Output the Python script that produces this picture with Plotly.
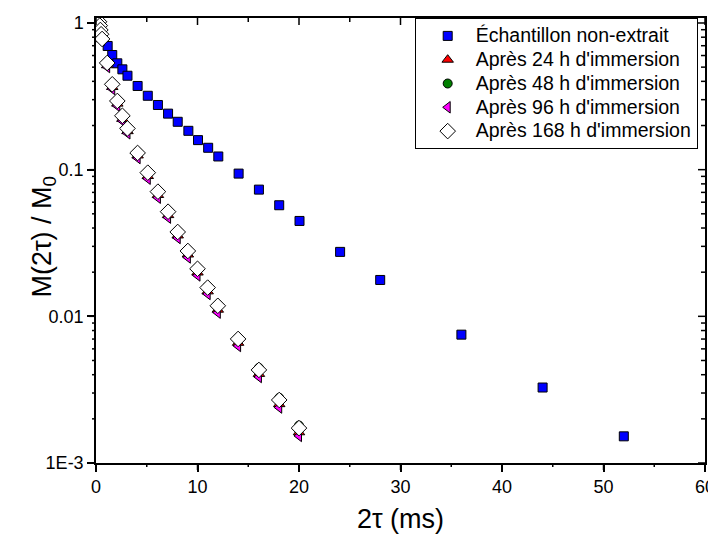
import plotly.graph_objects as go

# ---- data ----
x_ref = [1.15, 1.6, 2.1, 2.6, 3.1, 4.1, 5.1, 6.1, 7.1, 8.05, 9.1, 10.05, 11.05, 12.05,
         14.05, 16.05, 18.05, 20.05, 24.05, 28.0, 36.0, 44.0, 52.0]
y_ref = [0.697, 0.605, 0.531, 0.483, 0.437, 0.372, 0.319, 0.276, 0.241, 0.212, 0.184,
         0.159, 0.141, 0.123, 0.0940, 0.0731, 0.0572, 0.0447, 0.0275, 0.0177, 0.00750,
         0.00327, 0.00152]

x_imm = [0.3, 0.37, 0.43, 0.5, 0.6, 1.1, 1.6, 2.1, 2.6, 3.1, 4.1, 5.1, 6.1, 7.1, 8.05,
         9.05, 10.0, 11.0, 12.0, 14.0, 16.05, 18.05, 20.0]

y_24h = [1.0, 0.955, 0.895, 0.835, 0.775, 0.515, 0.366, 0.282, 0.222, 0.183, 0.125,
         0.0905, 0.0672, 0.0490, 0.0356, 0.0264, 0.0199, 0.0148, 0.0111, 0.00660,
         0.00405, 0.00252, 0.00162]
y_48h = [1.0, 0.96, 0.9, 0.84, 0.78, 0.540, 0.386, 0.297, 0.235, 0.193, 0.132, 0.0965,
         0.0716, 0.0523, 0.0381, 0.0283, 0.0214, 0.0160, 0.0120, 0.00712, 0.00445,
         0.00278, 0.00180]
y_96h = [0.99, 0.95, 0.89, 0.83, 0.77, 0.501, 0.355, 0.272, 0.215, 0.177, 0.120, 0.0868,
         0.0644, 0.0471, 0.0342, 0.0252, 0.0190, 0.0142, 0.0106, 0.00628, 0.00386,
         0.00239, 0.00153]
y_168h = [1.02, 0.96, 0.896, 0.838, 0.778, 0.534, 0.382, 0.294, 0.233, 0.191, 0.130,
          0.0954, 0.0708, 0.0517, 0.0376, 0.0279, 0.0211, 0.0157, 0.0118, 0.00701,
          0.00431, 0.00269, 0.00173]

names = ["Échantillon non-extrait", "Après 24 h d'immersion", "Après 48 h d'immersion",
         "Après 96 h d'immersion", "Après 168 h d'immersion"]

# tick values
x_major_ticks = [0, 10, 20, 30, 40, 50, 60]
x_minor_ticks = [5, 15, 25, 35, 45, 55]
y_major_ticks = [0.001, 0.01, 0.1, 1]
y_minor_ticks = [0.002, 0.003, 0.004, 0.005, 0.006, 0.007, 0.008, 0.009,
                 0.02, 0.03, 0.04, 0.05, 0.06, 0.07, 0.08, 0.09,
                 0.2, 0.3, 0.4, 0.5, 0.6, 0.7, 0.8, 0.9]
y_label_alias = {"0.001": "1E-3"}

FONT = "Arial, Liberation Sans, sans-serif"


def lg(name):
    return '<span style="font-size:19.5px">' + name + '</span>'


fig = go.Figure()
fig.add_trace(go.Scatter(x=x_ref, y=y_ref, mode="markers", name=lg(names[0]),
                         marker=dict(symbol="square", size=9, color="#0000FF",
                                     line=dict(color="black", width=1))))
fig.add_trace(go.Scatter(x=x_imm, y=y_24h, mode="markers", name=lg(names[1]),
                         marker=dict(symbol="triangle-up", size=10, color="#FF0000",
                                     line=dict(color="black", width=1))))
fig.add_trace(go.Scatter(x=x_imm, y=y_48h, mode="markers", name=lg(names[2]),
                         marker=dict(symbol="circle", size=9, color="#008000",
                                     line=dict(color="black", width=1))))
fig.add_trace(go.Scatter(x=x_imm, y=y_96h, mode="markers", name=lg(names[3]),
                         marker=dict(symbol="triangle-left", size=10, color="#FF00FF",
                                     line=dict(color="black", width=1))))
fig.add_trace(go.Scatter(x=x_imm, y=y_168h, mode="markers", name=lg(names[4]),
                         marker=dict(symbol="diamond", size=12, color="white",
                                     line=dict(color="black", width=1))))

yrange = [-3, 0.034]

# tick marks drawn as shapes (positions go through the axes' own scales)
W_PLOT, H_PLOT = 609, 445
TL_MAJ, TL_MIN = 7, 4
tick_line = dict(color="black", width=1.5)
shapes = []
for vals, tl in ((x_major_ticks, TL_MAJ), (x_minor_ticks, TL_MIN)):
    for v in vals:
        # bottom: outside, top: inside
        shapes.append(dict(type="line", xref="x", yref="paper", x0=v, x1=v,
                           y0=0, y1=-tl / H_PLOT, line=tick_line))
        shapes.append(dict(type="line", xref="x", yref="paper", x0=v, x1=v,
                           y0=1, y1=1 - tl / H_PLOT, line=tick_line))
for vals, tl in ((y_major_ticks, TL_MAJ), (y_minor_ticks, TL_MIN)):
    for v in vals:
        # left: outside, right: inside
        shapes.append(dict(type="line", xref="paper", yref="y", y0=v, y1=v,
                           x0=0, x1=-tl / W_PLOT, line=tick_line))
        shapes.append(dict(type="line", xref="paper", yref="y", y0=v, y1=v,
                           x0=1, x1=1 - tl / W_PLOT, line=tick_line))

fig.update_layout(
    template="none",
    width=708, height=529,
    margin=dict(l=88, r=11, t=10, b=74, autoexpand=False),
    paper_bgcolor="white", plot_bgcolor="white",
    font=dict(family=FONT, size=18, color="black"),
    showlegend=True,
    legend=dict(x=0.988, y=1.0, xanchor="right", yanchor="top",
                bordercolor="black", borderwidth=1, bgcolor="white",
                font=dict(family=FONT, size=16, color="black"),
                indentation=4, itemwidth=46, itemsizing="trace"),
    xaxis=dict(range=[0, 60], tickvals=x_major_ticks, ticks="outside", ticklen=7,
               tickcolor="black", tickwidth=1.5,
               showline=True, linecolor="black", linewidth=1.5, mirror=True,
               showgrid=False, zeroline=False, ticklabeloverflow="allow",
               title=dict(text="2τ (ms)", font=dict(size=27), standoff=13)),
    yaxis=dict(type="log", range=yrange, dtick=1, ticks="outside", ticklen=7,
               tickcolor="black", tickwidth=1.5,
               labelalias=y_label_alias, exponentformat="none",
               showline=True, linecolor="black", linewidth=1.5, mirror=True,
               showgrid=False, zeroline=False),
    shapes=shapes,
    annotations=[dict(text="M(2τ) / M<sub>0</sub>", textangle=-90,
                      xref="paper", yref="paper", x=-0.086, y=0.508,
                      xanchor="center", yanchor="middle", showarrow=False,
                      font=dict(family=FONT, size=27, color="black"))],
)

fig.write_html("out.html")
